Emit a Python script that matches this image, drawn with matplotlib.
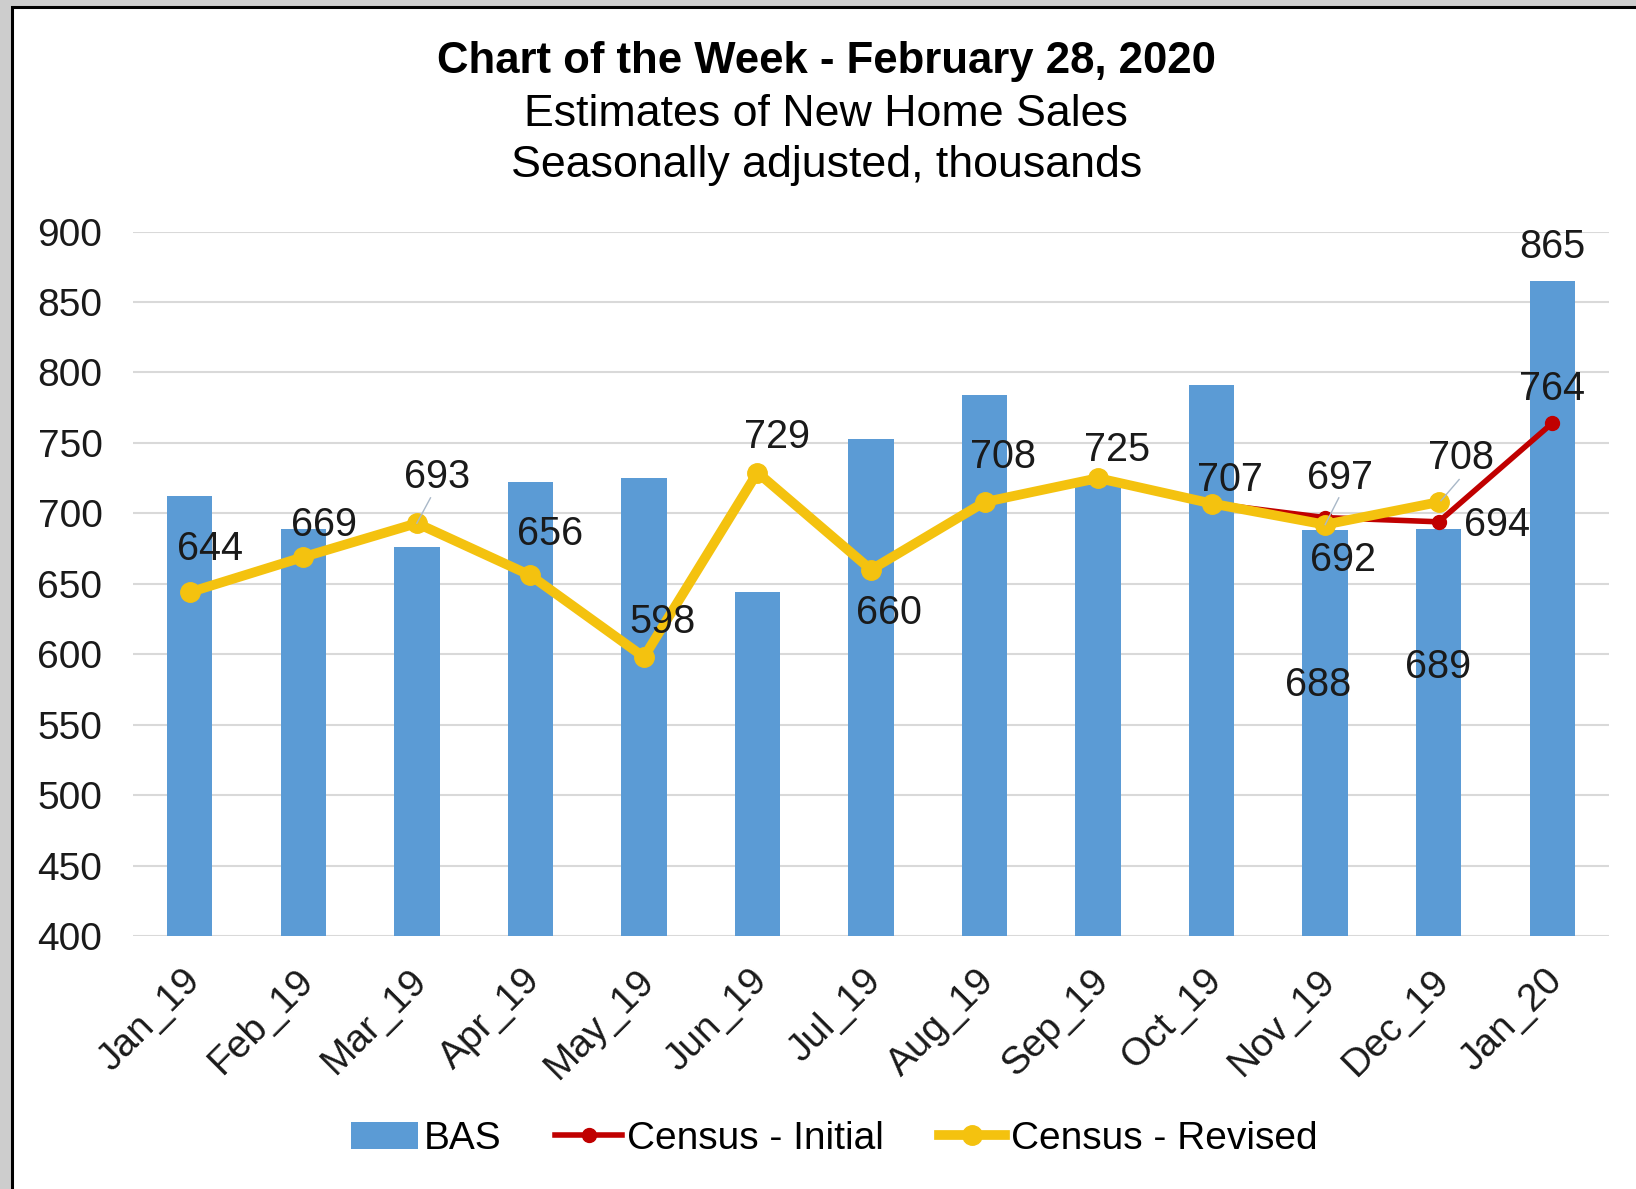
import numpy as np
import matplotlib.pyplot as plt
import matplotlib.transforms as mtransforms
from matplotlib.patches import Rectangle, Patch
from matplotlib.lines import Line2D

plt.rcParams['font.family'] = ['Liberation Sans', 'DejaVu Sans']

# dati
months = ['Jan_19', 'Feb_19', 'Mar_19', 'Apr_19', 'May_19', 'Jun_19', 'Jul_19',
          'Aug_19', 'Sep_19', 'Oct_19', 'Nov_19', 'Dec_19', 'Jan_20']
bas = [712, 689, 676, 722, 725, 644, 753, 784, 720, 791, 688, 689, 865]
census_initial = [644, 669, 693, 656, 598, 729, 660, 708, 725, 707, 697, 694, 764]
census_revised = [644, 669, 693, 656, 598, 729, 660, 708, 725, 707, 692, 708, np.nan]

blue = '#5B9BD5'
red = '#C00000'
gold = '#F4C20F'

fig = plt.figure(figsize=(16.36, 11.89), dpi=100, facecolor='#cdcdcd')
# riquadro bianco del grafico
fig.patches.append(Rectangle((12 / 1636, -0.05), 1.2, 0.05 + 1 - 7 / 1189,
                             transform=fig.transFigure, facecolor='white',
                             edgecolor='black', linewidth=2.2, zorder=-1))

ax = fig.add_axes([0.0813, 0.2128, 0.9022, 0.5924])
ax.set_facecolor('none')
x = np.arange(len(months))

ax.bar(x, bas, width=0.40, color=blue, zorder=2)
ax.plot(x, census_initial, color=red, linewidth=4, marker='o', markersize=10, zorder=3)
ax.plot(x, census_revised, color=gold, linewidth=7, marker='o', markersize=14, zorder=4)

ax.set_ylim(400, 900)
ax.set_xlim(-0.5, 12.5)
ax.set_yticks(np.arange(400, 901, 50))
ax.set_xticks(x)
ax.set_xticklabels(months, rotation=45, ha='right', rotation_mode='anchor')
ax.tick_params(axis='both', length=0, labelsize=28, colors='#1a1a1a')
ax.tick_params(axis='y', pad=22)
ax.tick_params(axis='x', pad=19)
# sposta un po' a sinistra le etichette dei mesi
shift = mtransforms.ScaledTranslation(-8 / 100, 0, fig.dpi_scale_trans)
for lab in ax.get_xticklabels():
    lab.set_transform(lab.get_transform() + shift)
for s in ax.spines.values():
    s.set_visible(False)
ax.grid(True, axis='y', color='#d9d9d9', linewidth=1.5, zorder=0)
ax.set_axisbelow(True)

# etichette dei valori (posizione x, y, testo)
labels = [(0.18, 675, '644'), (1.18, 692, '669'), (2.18, 726, '693'), (3.17, 685, '656'),
          (4.16, 623, '598'), (5.17, 754, '729'), (6.16, 629, '660'), (7.16, 740, '708'),
          (8.17, 745, '725'), (9.16, 724, '707'), (10.13, 725, '697'), (10.16, 667, '692'),
          (11.20, 739, '708'), (11.51, 692, '694'), (12.0, 788, '764'), (12.0, 889, '865'),
          (9.94, 578, '688'), (10.99, 591, '689')]
for lx, ly, t in labels:
    ax.text(lx, ly, t, fontsize=28.5, ha='center', va='center', color='#1a1a1a', zorder=6)

# linee guida
for (x0, y0), (x1, y1) in [((2.0, 693), (2.12, 711)), ((10.0, 692), (10.12, 711)),
                           ((11.02, 709), (11.18, 724))]:
    ax.plot([x0, x1], [y0, y1], color='#a9b8c8', linewidth=1, zorder=5)

fig.text(0.505, 1 - 62 / 1189, 'Chart of the Week - February 28, 2020', fontsize=31.5,
         fontweight='bold', ha='center', va='center')
fig.text(0.505, 1 - 114 / 1189, 'Estimates of New Home Sales', fontsize=32.2,
         ha='center', va='center')
fig.text(0.505, 1 - 166 / 1189, 'Seasonally adjusted, thousands', fontsize=32.2,
         ha='center', va='center')

handles = [Patch(facecolor=blue),
           Line2D([], [], color=red, linewidth=4, marker='o', markersize=10),
           Line2D([], [], color=gold, linewidth=7, marker='o', markersize=14)]
fig.legend(handles, ['BAS', 'Census - Initial', 'Census - Revised'], loc='center',
           bbox_to_anchor=(0.51, 1 - 1139 / 1189), ncol=3, frameon=False, fontsize=28,
           handlelength=1.7, handletextpad=0.15, columnspacing=1.4)

fig.savefig('out.png', dpi=100, facecolor=fig.get_facecolor())
